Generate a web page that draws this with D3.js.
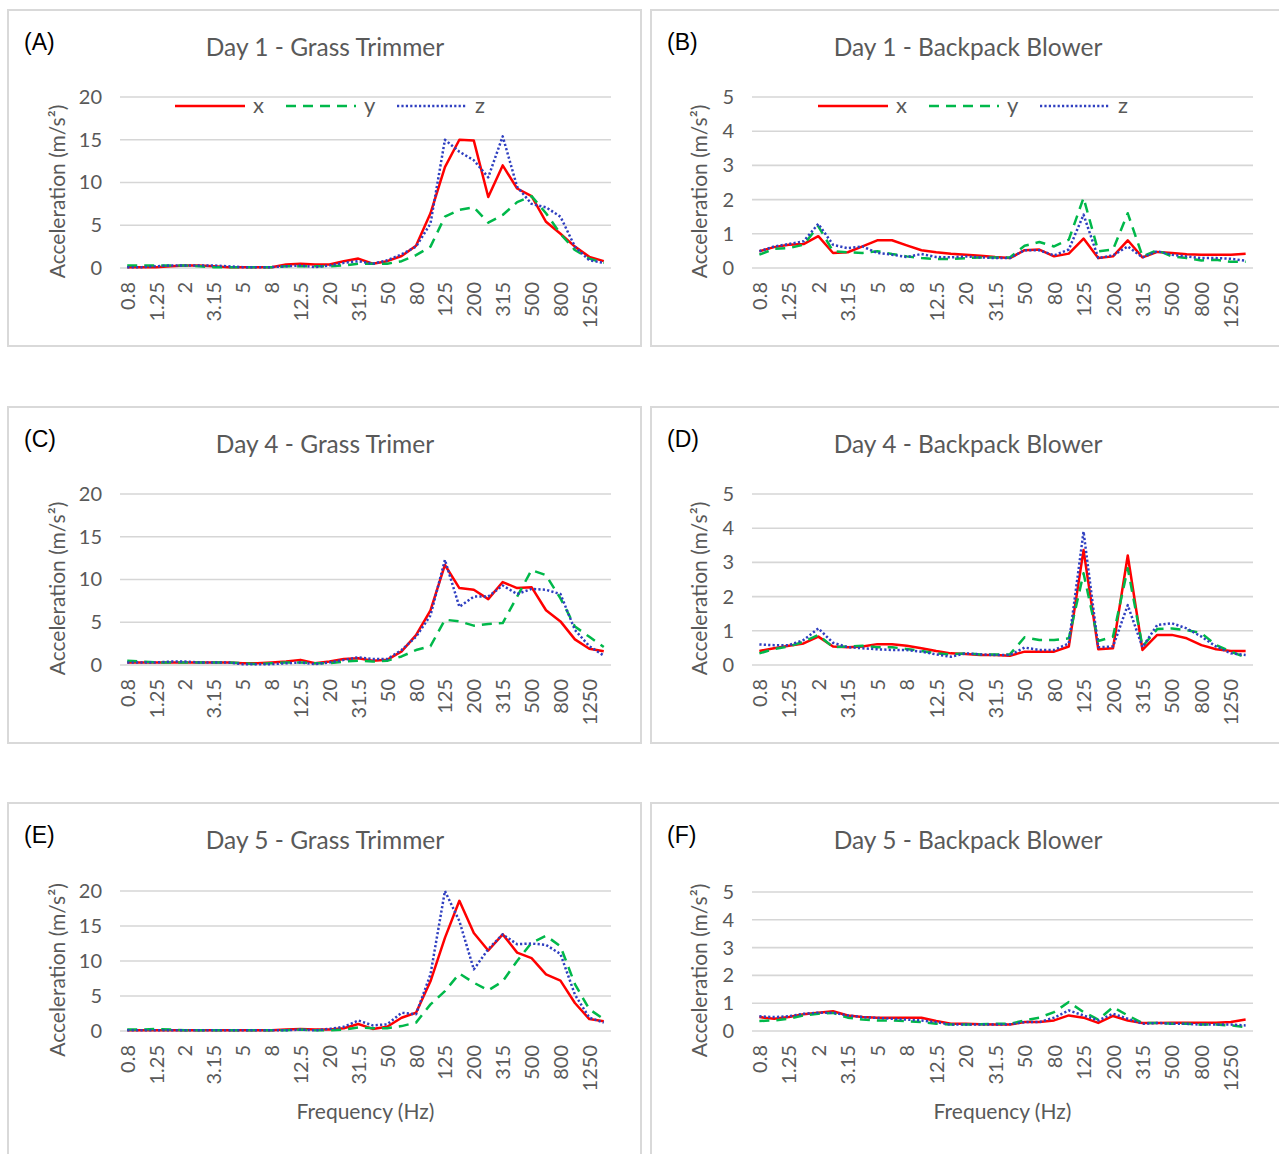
<!DOCTYPE html>
<html>
<head>
<meta charset="utf-8">
<script src="https://cdn.jsdelivr.net/npm/d3@7"></script>
<style>
body { margin: 0; background: #fff; }
svg { display: block; }
.tick text { font-family: Lato, sans-serif; fill: #595959; }
</style>
</head>
<body>
<svg></svg>
<script>
// one-third octave band centres (Hz)
const bands = ["0.8","1","1.25","1.6","2","2.5","3.15","4","5","6.3","8","10","12.5","16","20","25","31.5","40","50","63","80","100","125","160","200","250","315","400","500","630","800","1000","1250","1600"]
const tickLabels = ["0.8","1.25","2","3.15","5","8","12.5","20","31.5","50","80","125","200","315","500","800","1250"]
const trimmerTicks = [0, 5, 10, 15, 20]
const blowerTicks = [0, 1, 2, 3, 4, 5]
const seriesNames = ["x", "y", "z"]

// Day 1 - grass trimmer
const trimmer1X = [0.1,0.1,0.1,0.2,0.3,0.3,0.2,0.1,0.1,0.1, 0.1,0.4,0.5,0.4,0.4,0.8,1.1,0.5,0.8,1.4, 2.6,6.4,11.8,15.0,14.9,8.3,12.0,9.3,8.4,5.4, 4.0,2.5,1.3,0.8]
const trimmer1Y = [0.3,0.3,0.3,0.3,0.3,0.2,0.1,0.1,0.1,0.1, 0.1,0.2,0.2,0.2,0.2,0.3,0.5,0.5,0.5,0.8, 1.5,2.5,6.0,6.8,7.1,5.3,6.2,7.7,8.4,6.4, 4.0,2.1,1.1,0.6]
const trimmer1Z = [0.1,0.1,0.2,0.3,0.3,0.3,0.3,0.2,0.1,0.1, 0.1,0.2,0.3,0.1,0.3,0.6,0.8,0.5,0.9,1.6, 2.5,5.2,15.0,13.6,12.6,10.6,15.4,9.5,7.5,7.1, 6.0,2.5,0.9,0.6]

// Day 1 - backpack blower
const blower1X = [0.49,0.61,0.68,0.7,0.93,0.44,0.46,0.63,0.81,0.81, 0.66,0.52,0.46,0.42,0.39,0.36,0.32,0.29,0.52,0.54, 0.34,0.42,0.86,0.29,0.34,0.81,0.31,0.47,0.44,0.4, 0.39,0.39,0.39,0.42]
const blower1Y = [0.39,0.56,0.58,0.68,1.22,0.49,0.46,0.44,0.49,0.41, 0.34,0.29,0.26,0.26,0.29,0.31,0.31,0.31,0.65,0.76, 0.63,0.83,2.05,0.49,0.54,1.6,0.34,0.52,0.34,0.29, 0.22,0.24,0.18,0.18]
const blower1Z = [0.49,0.63,0.7,0.78,1.29,0.68,0.58,0.63,0.44,0.39, 0.32,0.41,0.32,0.31,0.34,0.31,0.29,0.29,0.52,0.52, 0.37,0.54,1.56,0.29,0.37,0.63,0.31,0.49,0.39,0.34, 0.29,0.29,0.27,0.21]

// Day 4 - grass trimmer
const trimmer4X = [0.3,0.3,0.3,0.3,0.3,0.3,0.3,0.3,0.2,0.2, 0.3,0.4,0.6,0.2,0.4,0.7,0.8,0.5,0.6,1.6, 3.5,6.4,11.7,9.0,8.8,7.7,9.7,9.0,9.1,6.4, 5.1,3.0,1.9,1.6]
const trimmer4Y = [0.5,0.4,0.3,0.3,0.3,0.3,0.3,0.3,0.2,0.1, 0.2,0.3,0.3,0.2,0.2,0.4,0.5,0.4,0.5,1.0, 1.75,2.2,5.3,5.1,4.6,4.8,4.9,8.0,11.1,10.5, 7.8,4.5,3.3,2.1]
const trimmer4Z = [0.3,0.3,0.3,0.4,0.4,0.3,0.3,0.3,0.1,0.1, 0.1,0.2,0.3,0.1,0.3,0.6,0.9,0.7,0.7,1.75, 3.3,5.8,12.3,6.8,8.0,8.0,9.3,8.3,8.9,8.8, 8.3,4.1,2.2,1.1]

// Day 4 - backpack blower
const blower4X = [0.41,0.49,0.56,0.63,0.83,0.54,0.52,0.54,0.61,0.61, 0.56,0.49,0.41,0.34,0.32,0.29,0.29,0.27,0.39,0.39, 0.39,0.54,3.36,0.46,0.49,3.2,0.44,0.88,0.88,0.78, 0.58,0.46,0.41,0.41]
const blower4Y = [0.34,0.47,0.54,0.68,0.88,0.52,0.54,0.56,0.52,0.52, 0.47,0.41,0.34,0.31,0.34,0.31,0.31,0.31,0.81,0.73, 0.73,0.78,2.68,0.7,0.83,2.83,0.54,1.05,1.07,1.02, 0.93,0.58,0.39,0.22]
const blower4Z = [0.6,0.58,0.58,0.73,1.07,0.65,0.52,0.49,0.46,0.44, 0.44,0.39,0.31,0.24,0.34,0.31,0.29,0.29,0.51,0.44, 0.44,0.63,3.9,0.52,0.54,1.75,0.52,1.17,1.22,1.07, 0.83,0.54,0.34,0.29]

// Day 5 - grass trimmer
const trimmer5X = [0.1,0.1,0.1,0.1,0.1,0.1,0.1,0.1,0.1,0.1, 0.1,0.2,0.3,0.2,0.2,0.4,1.0,0.3,0.6,1.9, 2.6,7.1,13.3,18.6,14.0,11.5,13.8,11.2,10.4,8.1, 7.2,4.0,1.7,1.4]
const trimmer5Y = [0.2,0.2,0.3,0.2,0.1,0.1,0.1,0.1,0.1,0.1, 0.1,0.1,0.2,0.1,0.1,0.2,0.5,0.4,0.4,0.7, 1.2,3.8,5.7,8.2,6.9,5.8,7.1,10.0,12.6,13.6, 12.1,6.7,3.1,1.7]
const trimmer5Z = [0.1,0.1,0.1,0.1,0.1,0.1,0.1,0.1,0.1,0.1, 0.1,0.1,0.2,0.1,0.3,0.6,1.5,0.8,0.95,2.6, 2.4,8.1,20.0,15.7,8.8,11.7,13.8,12.4,12.5,12.3, 11.0,5.2,1.9,1.2]

// Day 5 - backpack blower
const blower5X = [0.5,0.44,0.5,0.6,0.66,0.71,0.56,0.5,0.48,0.48, 0.48,0.48,0.36,0.26,0.26,0.24,0.23,0.23,0.32,0.32, 0.38,0.56,0.48,0.29,0.54,0.38,0.29,0.29,0.3,0.3, 0.3,0.3,0.32,0.41]
const blower5Y = [0.36,0.38,0.44,0.56,0.62,0.65,0.48,0.41,0.38,0.38, 0.35,0.32,0.26,0.23,0.23,0.24,0.26,0.26,0.38,0.48, 0.68,1.04,0.68,0.41,0.86,0.56,0.29,0.29,0.26,0.26, 0.23,0.23,0.2,0.14]
const blower5Z = [0.53,0.5,0.53,0.62,0.66,0.66,0.56,0.5,0.47,0.44, 0.41,0.38,0.32,0.23,0.23,0.23,0.23,0.24,0.32,0.32, 0.48,0.74,0.56,0.38,0.62,0.44,0.26,0.29,0.26,0.26, 0.23,0.23,0.23,0.2]

const lineStyles = [
    { color: "#ff0000", dash: null },
    { color: "#00b84a", dash: "10,7" },
    { color: "#2f3fc0", dash: "2.2,2.2" }
]

const panels = [
    { label: "(A)", title: "Day 1 - Grass Trimmer", bx: 8, by: 10, bh: 336, left: 120, right: 611, top: 97, bottom: 268, ticks: trimmerTicks, series: [trimmer1X, trimmer1Y, trimmer1Z], legend: true },
    { label: "(B)", title: "Day 1 - Backpack Blower", bx: 651, by: 10, bh: 336, left: 752, right: 1253, top: 97, bottom: 268, ticks: blowerTicks, series: [blower1X, blower1Y, blower1Z], legend: true },
    { label: "(C)", title: "Day 4 - Grass Trimer", bx: 8, by: 407, bh: 336, left: 120, right: 611, top: 494, bottom: 665, ticks: trimmerTicks, series: [trimmer4X, trimmer4Y, trimmer4Z] },
    { label: "(D)", title: "Day 4 - Backpack Blower", bx: 651, by: 407, bh: 336, left: 752, right: 1253, top: 494, bottom: 665, ticks: blowerTicks, series: [blower4X, blower4Y, blower4Z] },
    { label: "(E)", title: "Day 5 - Grass Trimmer", bx: 8, by: 803, bh: 400, left: 120, right: 611, top: 891, bottom: 1031, ticks: trimmerTicks, series: [trimmer5X, trimmer5Y, trimmer5Z], xTitle: true },
    { label: "(F)", title: "Day 5 - Backpack Blower", bx: 651, by: 803, bh: 400, left: 752, right: 1253, top: 892, bottom: 1031, ticks: blowerTicks, series: [blower5X, blower5Y, blower5Z], xTitle: true }
]

const svg = d3.select("svg")
    .attr("width", 1279)
    .attr("height", 1154)

panels.forEach(p => {
    const g = svg.append("g")

    // panel frame
    g.append("rect")
        .attr("x", p.bx)
        .attr("y", p.by)
        .attr("width", 633)
        .attr("height", p.bh)
        .attr("fill", "none")
        .attr("stroke", "#d9d9d9")
        .attr("stroke-width", 2)

    g.append("text")
        .attr("x", p.bx + 16)
        .attr("y", p.by + 40)
        .style("font-family", "'Liberation Sans', Arial, sans-serif")
        .style("font-size", "23px")
        .attr("fill", "#000")
        .text(p.label)

    g.append("text")
        .attr("x", p.bx + 317)
        .attr("y", p.by + 46)
        .attr("text-anchor", "middle")
        .style("font-family", "Lato, sans-serif")
        .style("font-size", "24.5px")
        .attr("fill", "#595959")
        .text(p.title)

    const x = d3.scalePoint()
        .domain(bands)
        .range([p.left, p.right])
        .padding(0.5)

    const y = d3.scaleLinear()
        .domain([0, d3.max(p.ticks)])
        .range([p.bottom, p.top])

    // gridlines
    g.append("g")
        .selectAll("line")
        .data(p.ticks)
        .enter()
        .append("line")
        .attr("x1", p.left)
        .attr("x2", p.right)
        .attr("y1", d => y(d))
        .attr("y2", d => y(d))
        .attr("stroke", "#d6d6d6")
        .attr("stroke-width", 1.6)

    const yAxis = g.append("g")
        .attr("transform", `translate(${p.left}, 0)`)
        .call(d3.axisLeft(y).tickValues(p.ticks).tickFormat(d3.format("d")).tickSize(0).tickPadding(18))
    yAxis.select(".domain").remove()
    yAxis.selectAll("text").style("font-size", "20px")

    const xAxis = g.append("g")
        .attr("transform", `translate(0, ${p.bottom})`)
        .call(d3.axisBottom(x).tickValues(tickLabels).tickSize(0))
    xAxis.select(".domain").remove()
    xAxis.selectAll("text")
        .attr("transform", "rotate(-90)")
        .attr("x", -14)
        .attr("y", 0)
        .attr("dy", "0.35em")
        .attr("text-anchor", "end")
        .style("font-size", "20px")

    const titleOffset = d3.max(p.ticks) > 5 ? 55 : 45
    g.append("text")
        .attr("transform", `translate(${p.left - titleOffset}, ${(p.top + p.bottom) / 2 + 9}) rotate(-90)`)
        .attr("text-anchor", "middle")
        .style("font-family", "Lato, sans-serif")
        .style("font-size", "21px")
        .attr("fill", "#595959")
        .text("Acceleration (m/s²)")

    if (p.xTitle) {
        g.append("text")
            .attr("x", (p.left + p.right) / 2)
            .attr("y", p.bottom + 88)
            .attr("text-anchor", "middle")
            .style("font-family", "Lato, sans-serif")
            .style("font-size", "21px")
            .attr("fill", "#595959")
            .text("Frequency (Hz)")
    }

    const line = d3.line()
        .x((d, i) => x(bands[i]))
        .y(d => y(d))

    p.series.forEach((s, k) => {
        g.append("path")
            .datum(s)
            .attr("d", line)
            .attr("fill", "none")
            .attr("stroke", lineStyles[k].color)
            .attr("stroke-width", 2.5)
            .attr("stroke-linejoin", "round")
            .attr("stroke-dasharray", lineStyles[k].dash)
    })

    if (p.legend) {
        const legend = g.append("g")
            .attr("transform", `translate(${p.bx + 167}, ${p.by + 96})`)
        const items = legend.selectAll("g")
            .data(seriesNames)
            .enter()
            .append("g")
            .attr("transform", (d, i) => `translate(${i * 111}, 0)`)
        items.append("line")
            .attr("x1", 0)
            .attr("x2", 70)
            .attr("stroke", (d, i) => lineStyles[i].color)
            .attr("stroke-width", 2.5)
            .attr("stroke-dasharray", (d, i) => lineStyles[i].dash)
        items.append("text")
            .attr("x", 78)
            .attr("y", 7)
            .style("font-family", "Lato, sans-serif")
            .style("font-size", "22px")
            .attr("fill", "#595959")
            .text(d => d)
    }
})
</script>
</body>
</html>
